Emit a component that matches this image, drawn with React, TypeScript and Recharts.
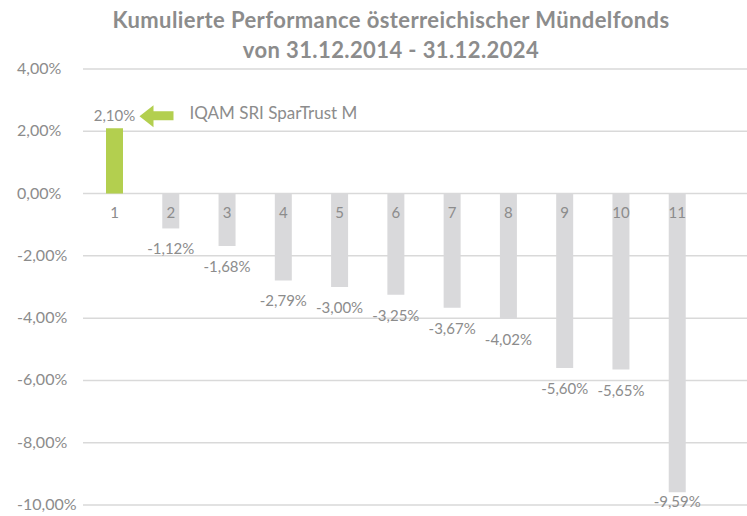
import { Bar, BarChart, CartesianGrid, Cell, LabelList, XAxis, YAxis } from "recharts";

const categories = ["1", "2", "3", "4", "5", "6", "7", "8", "9", "10", "11"];
const performance = [2.1, -1.12, -1.68, -2.79, -3.0, -3.25, -3.67, -4.02, -5.6, -5.65, -9.59];
const yTicks = [4, 2, 0, -2, -4, -6, -8, -10];
const highlightName = "IQAM SRI SparTrust M";

const data = categories.map((name, i) => ({ name, value: performance[i] }));

const GREY_TEXT = "#8c8c8c";
const GREEN = "#b3cf4f";
const FONT = "Lato, 'Open Sans', sans-serif";

const fmt = (v: number) => `${v.toFixed(2).replace(".", ",")}%`;

function YTick({ y, payload }: any) {
  return (
    <text x={17} y={y} dy={5} textAnchor="start" fill={GREY_TEXT} fontSize={16} fontFamily={FONT}>
      {fmt(Number(payload.value))}
    </text>
  );
}

// bar rects may come with negative height for negative values
function zeroLine(value: number, y: number, height: number) {
  if (value >= 0) return y + height;
  return height < 0 ? y + height : y;
}

function ValueLabel(props: any) {
  const { x, y, width, height, value, index } = props;
  const v = Number(value);
  const cx = x + width / 2;
  const end = v >= 0 ? Math.min(y, y + height) : Math.max(y, y + height);
  const ly = v >= 0 ? end - 12 : Math.min(end + 21, 502);
  return (
    <g>
      <text x={cx} y={ly} dy={5} textAnchor="middle" fill={GREY_TEXT} fontSize={15} fontFamily={FONT}>
        {fmt(v)}
      </text>
      {index === 0 && (
        <g>
          <polygon
            points={`${cx + 25},${ly} ${cx + 39},${ly - 11} ${cx + 39},${ly - 5} ${cx + 59},${ly - 5} ${cx + 59},${ly + 4} ${cx + 39},${ly + 4} ${cx + 39},${ly + 11}`}
            fill={GREEN}
          />
          <text x={cx + 75} y={ly - 3} dy={6} textAnchor="start" fill={GREY_TEXT} fontSize={17} fontFamily={FONT}>
            {highlightName}
          </text>
        </g>
      )}
    </g>
  );
}

function CategoryLabel(props: any) {
  const { x, y, width, height, value, index } = props;
  const zero = zeroLine(performance[index], y, height);
  return (
    <text x={x + width / 2} y={zero + 19} dy={5} textAnchor="middle" fill={GREY_TEXT} fontSize={15} fontFamily={FONT}>
      {value}
    </text>
  );
}

export default function App() {
  return (
    <div style={{ position: "absolute", left: 0, top: 0, width: 747, height: 516, background: "#fff" }}>
      <div
        style={{
          position: "absolute",
          left: 0,
          top: 5,
          width: 782,
          textAlign: "center",
          fontFamily: FONT,
          fontWeight: 700,
          fontSize: 22,
          letterSpacing: 0.4,
          lineHeight: "30px",
          color: GREY_TEXT
        }}
      >
        Kumulierte Performance österreichischer Mündelfonds
        <br />
        von 31.12.2014 - 31.12.2024
      </div>
      <BarChart
        width={747}
        height={516}
        data={data}
        margin={{ top: 69, right: 0, bottom: 11, left: 0 }}
        barSize={17}
      >
        <CartesianGrid vertical={false} stroke="#d9d9d9" strokeWidth={1.5} />
        <XAxis dataKey="name" hide padding={{ left: 3, right: 42 }} />
        <YAxis
          type="number"
          domain={[-10, 4]}
          ticks={yTicks}
          width={83}
          axisLine={false}
          tickLine={false}
          tick={<YTick />}
          interval={0}
        />
        <Bar dataKey="value" isAnimationActive={false}>
          {data.map((d, i) => (
            <Cell key={d.name} fill={i === 0 ? GREEN : "#d9d9db"} />
          ))}
          <LabelList dataKey="value" content={<ValueLabel />} />
          <LabelList dataKey="name" content={<CategoryLabel />} />
        </Bar>
      </BarChart>
    </div>
  );
}
